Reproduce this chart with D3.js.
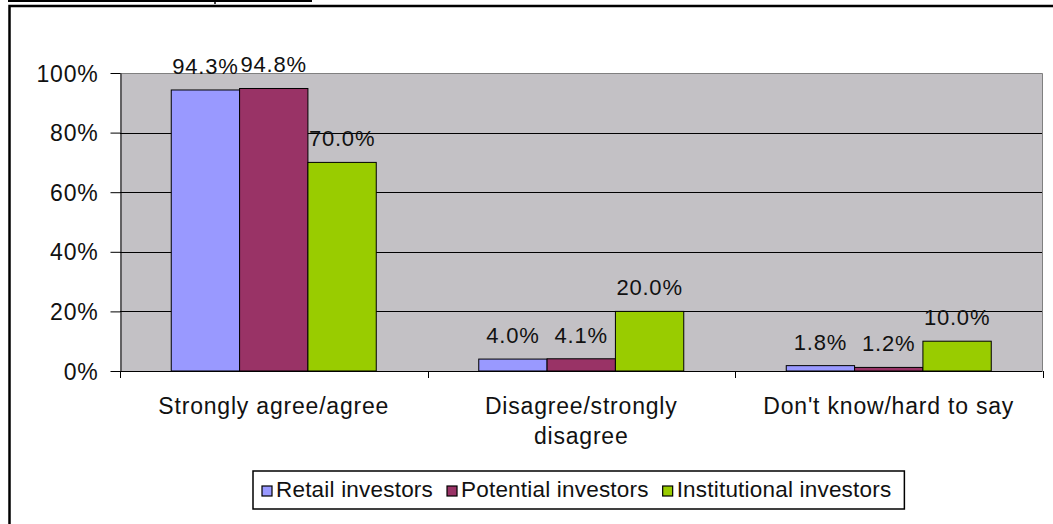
<!DOCTYPE html>
<html>
<head>
<meta charset="utf-8">
<script src="https://cdn.jsdelivr.net/npm/d3@7"></script>
<style>
  html, body { margin: 0; padding: 0; background: #fff; }
  svg { display: block; }
  text { font-family: Arial, "Liberation Sans", sans-serif; fill: #111; }
</style>
</head>
<body>
<div id="chart"></div>
<script>
// chart data
const categories = ['Strongly agree/agree', 'Disagree/strongly disagree', "Don't know/hard to say"];
const seriesNames = ['Retail investors', 'Potential investors', 'Institutional investors'];
const retailValues = [0.943, 0.040, 0.018];
const potentialValues = [0.948, 0.041, 0.012];
const institutionalValues = [0.700, 0.200, 0.100];
const seriesColors = ['#9999ff', '#993366', '#99cc00'];
const yTicks = [0, 0.2, 0.4, 0.6, 0.8, 1];

const seriesValues = [retailValues, potentialValues, institutionalValues];

const width = 1053;
const height = 524;

const svg = d3.select('#chart')
  .append('svg')
  .attr('width', width)
  .attr('height', height);

// document frame around the chart (page clipped at the top)
svg.append('line')
  .attr('x1', 8).attr('x2', 312)
  .attr('y1', 1).attr('y2', 1)
  .attr('stroke', '#000')
  .attr('stroke-width', 2);
svg.append('line')
  .attr('x1', 215).attr('x2', 215)
  .attr('y1', 0).attr('y2', 4)
  .attr('stroke', '#000')
  .attr('stroke-width', 1.5);
svg.append('path')
  .attr('d', `M9.5,${height} V6 H${width}`)
  .attr('fill', 'none')
  .attr('stroke', '#000')
  .attr('stroke-width', 2.5);

// plot area
const plotLeft = 120;
const plotRight = 1042.5;
const plotTop = 73;
const plotBottom = 371;

const x0 = d3.scaleBand()
  .domain(categories)
  .range([plotLeft, plotRight])
  .paddingInner(0)
  .paddingOuter(0);

// Excel gap width 150% -> bar = band / 4.5
const x1 = d3.scaleBand()
  .domain(seriesNames)
  .range([0, x0.bandwidth()])
  .paddingInner(0)
  .paddingOuter(0.75);

const y = d3.scaleLinear()
  .domain([0, 1])
  .range([plotBottom, plotTop]);

const color = d3.scaleOrdinal()
  .domain(seriesNames)
  .range(seriesColors);

svg.append('rect')
  .attr('x', plotLeft)
  .attr('y', plotTop)
  .attr('width', plotRight - plotLeft)
  .attr('height', plotBottom - plotTop)
  .attr('fill', '#c3c1c5');

// gridlines
svg.append('g')
  .selectAll('line')
  .data(yTicks.filter(t => t > 0 && t < 1))
  .enter()
  .append('line')
  .attr('x1', plotLeft)
  .attr('x2', plotRight)
  .attr('y1', d => Math.round(y(d)) + 0.5)
  .attr('y2', d => Math.round(y(d)) + 0.5)
  .attr('stroke', '#000')
  .attr('stroke-width', 1);

// plot border (top + right)
svg.append('path')
  .attr('d', `M${plotLeft},${plotTop + 0.5} H${plotRight} V${plotBottom}`)
  .attr('fill', 'none')
  .attr('stroke', '#808080')
  .attr('stroke-width', 1);

// bars
const groups = svg.append('g')
  .selectAll('g')
  .data(categories)
  .enter()
  .append('g')
  .attr('transform', d => `translate(${x0(d)},0)`);

const barData = (cat, ci) => seriesNames.map((s, si) => ({
  series: s,
  value: seriesValues[si][ci]
}));

groups.selectAll('rect')
  .data(barData)
  .enter()
  .append('rect')
  .attr('x', d => x1(d.series))
  .attr('y', d => y(d.value))
  .attr('width', x1.bandwidth())
  .attr('height', d => y(0) - y(d.value))
  .attr('fill', d => color(d.series))
  .attr('stroke', '#000')
  .attr('stroke-width', 1);

// data labels
groups.selectAll('text.val')
  .data(barData)
  .enter()
  .append('text')
  .attr('class', 'val')
  .attr('x', d => x1(d.series) + x1.bandwidth() / 2)
  .attr('y', d => y(d.value) - 16)
  .attr('text-anchor', 'middle')
  .attr('font-size', '22px')
  .attr('letter-spacing', '0.8px')
  .text(d => d3.format('.1%')(d.value));

// y axis
const yAxis = svg.append('g')
  .attr('transform', `translate(${plotLeft + 0.5},0)`)
  .call(d3.axisLeft(y)
    .tickValues(yTicks)
    .tickFormat(d3.format('.0%'))
    .tickSize(10)
    .tickSizeOuter(0)
    .tickPadding(12));
yAxis.selectAll('path, line').attr('stroke', '#000');
yAxis.selectAll('text')
  .attr('font-size', '23px')
  .attr('letter-spacing', '0.8px')
  .attr('font-family', 'Arial, "Liberation Sans", sans-serif')
  .attr('fill', '#111')
  .attr('dy', '0.35em');

// x axis line and boundary ticks
const xAxis = svg.append('g');
xAxis.append('line')
  .attr('x1', plotLeft)
  .attr('x2', plotRight)
  .attr('y1', plotBottom + 0.5)
  .attr('y2', plotBottom + 0.5)
  .attr('stroke', '#000');
const boundaries = categories.map(c => x0(c)).concat([x0(categories[categories.length - 1]) + x0.bandwidth()]);
xAxis.selectAll('line.tick')
  .data(boundaries)
  .enter()
  .append('line')
  .attr('class', 'tick')
  .attr('x1', d => Math.round(d) + 0.5)
  .attr('x2', d => Math.round(d) + 0.5)
  .attr('y1', plotBottom)
  .attr('y2', plotBottom + 7)
  .attr('stroke', '#000');

// category labels, wrapped like Excel
const catLabels = xAxis.selectAll('text.cat')
  .data(categories)
  .enter()
  .append('text')
  .attr('class', 'cat')
  .attr('x', d => x0(d) + x0.bandwidth() / 2)
  .attr('y', 414)
  .attr('text-anchor', 'middle')
  .attr('font-size', '23px')
  .attr('letter-spacing', '0.8px');

catLabels.each(function(d) {
  const text = d3.select(this);
  const cx = +text.attr('x');
  const words = d.split(' ');
  let line = [];
  let tspan = text.append('tspan').attr('x', cx).attr('dy', 0);
  words.forEach(w => {
    line.push(w);
    tspan.text(line.join(' '));
    if (tspan.node().getComputedTextLength() > 280 && line.length > 1) {
      line.pop();
      tspan.text(line.join(' '));
      line = [w];
      tspan = text.append('tspan').attr('x', cx).attr('dy', 30).text(w);
    }
  });
});

// legend
const legend = svg.append('g');
const legendItems = legend.selectAll('g')
  .data(seriesNames)
  .enter()
  .append('g');

legendItems.append('rect')
  .attr('width', 10)
  .attr('height', 10)
  .attr('y', 486)
  .attr('fill', d => color(d))
  .attr('stroke', '#000')
  .attr('stroke-width', 1.2);

legendItems.append('text')
  .attr('y', 497)
  .attr('font-size', '22.5px')
  .attr('letter-spacing', '0.2px')
  .text(d => d);

let cursor = 0;
legendItems.each(function() {
  const g = d3.select(this);
  g.select('rect').attr('x', cursor);
  g.select('text').attr('x', cursor + 14);
  cursor += 14 + g.select('text').node().getComputedTextLength() + 14;
});
const legendInner = cursor - 14;
const legendLeft = 253;
const padL = 9;
const padR = 13;
legend.attr('transform', `translate(${legendLeft + padL},0)`);
legend.insert('rect', ':first-child')
  .attr('x', -padL)
  .attr('y', 471)
  .attr('width', legendInner + padL + padR)
  .attr('height', 38)
  .attr('fill', '#fff')
  .attr('stroke', '#000')
  .attr('stroke-width', 1.5);
</script>
</body>
</html>
